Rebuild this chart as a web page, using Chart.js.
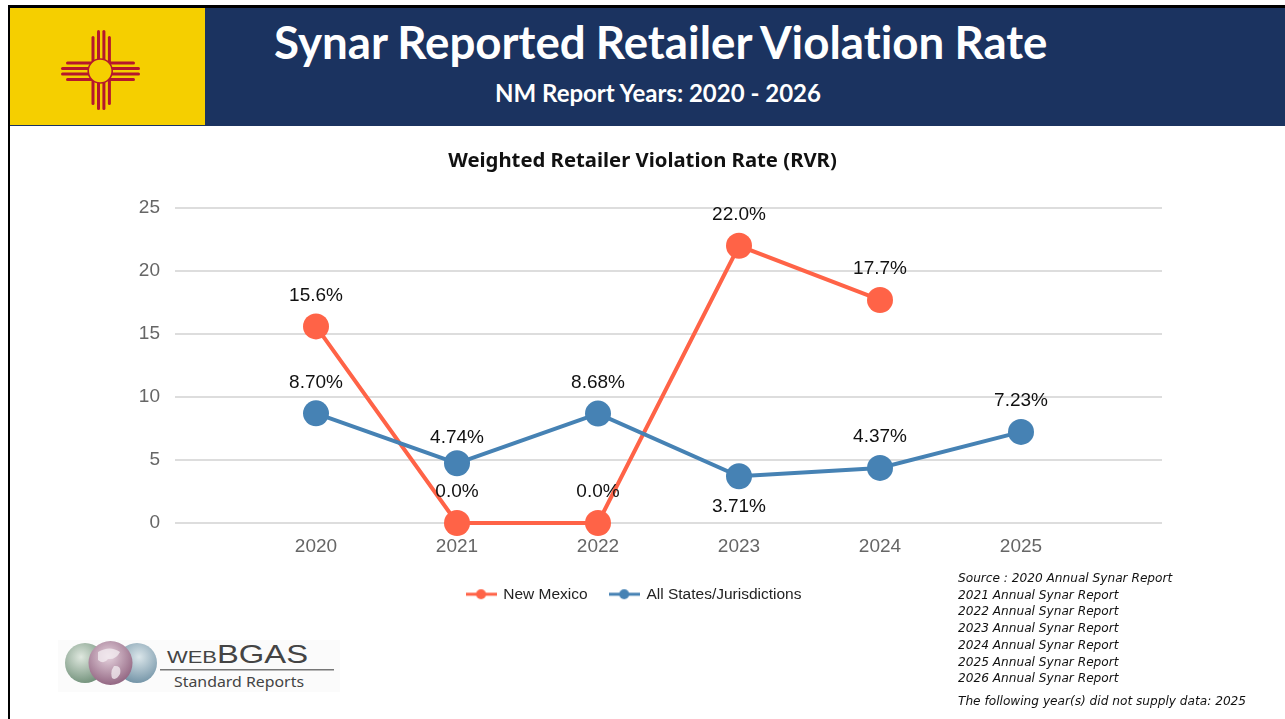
<!DOCTYPE html>
<html>
<head>
<meta charset="utf-8">
<title>Synar Reported Retailer Violation Rate</title>
<script src="https://cdn.jsdelivr.net/npm/chart.js@4"></script>
<style>
	html, body { margin: 0; padding: 0; background: #fff; }
	#page { position: relative; width: 1285px; height: 719px; overflow: hidden; background: #fff; }
	#topLine { position: absolute; left: 8px; right: 0; top: 5px; height: 3px; background: #000; }
	#leftLine { position: absolute; left: 8px; top: 5px; bottom: 0; width: 2px; background: #000; }
	#banner { position: absolute; left: 10px; right: 0; top: 8px; height: 118px; background: #1b3360; }
	#flag { position: absolute; left: 10px; top: 8px; width: 195px; height: 117px; background: #f5cf00; }
	#bannerTitle, #bannerSub { position: absolute; color: #fff; font-family: Lato, sans-serif; font-weight: 700; white-space: nowrap; font-variant-ligatures: none; }
	#bannerTitle { left: 274px; top: 15px; font-size: 45.7px; line-height: 54px; word-spacing: -1px; }
	#bannerSub { left: 495px; top: 78px; font-size: 24px; line-height: 30px; }
	#chartBox { position: absolute; left: 0; top: 126px; width: 1285px; height: 593px; }
	#chartBox canvas { display: block; }
	#logo { position: absolute; left: 58px; top: 640px; }
	#source { position: absolute; left: 958px; top: 570px; font-family: "DejaVu Sans", sans-serif; font-style: italic; font-size: 12.15px; line-height: 16.7px; color: #111; white-space: nowrap; }
	#source .gap { margin-top: 6px; }
</style>
</head>
<body>
<div id="page">
	<div id="banner"></div>
	<div id="flag">
		<svg width="195" height="117" viewBox="0 0 195 117">
			<g fill="#b5182c">
				<!-- zia rays: top, bottom, left, right -->
				<rect x="81.5" y="28" width="3" height="28" rx="1.5"/><rect x="87" y="22" width="3" height="34" rx="1.5"/>
				<rect x="92.4" y="22" width="3" height="34" rx="1.5"/><rect x="97.9" y="28" width="3" height="28" rx="1.5"/>
				<rect x="81.5" y="70" width="3" height="27" rx="1.5"/><rect x="87" y="70" width="3" height="32" rx="1.5"/>
				<rect x="92.4" y="70" width="3" height="32" rx="1.5"/><rect x="97.9" y="70" width="3" height="27" rx="1.5"/>
				<rect x="56" y="53.5" width="28" height="3" rx="1.5"/><rect x="51" y="59" width="33" height="3" rx="1.5"/>
				<rect x="51" y="64.4" width="33" height="3" rx="1.5"/><rect x="56" y="69.9" width="28" height="3" rx="1.5"/>
				<rect x="98" y="53.5" width="27" height="3" rx="1.5"/><rect x="98" y="59" width="32" height="3" rx="1.5"/>
				<rect x="98" y="64.4" width="32" height="3" rx="1.5"/><rect x="98" y="69.9" width="27" height="3" rx="1.5"/>
			</g>
			<circle cx="90.2" cy="63" r="12" fill="#f5cf00" stroke="#b5182c" stroke-width="1.6"/>
		</svg>
	</div>
	<div id="topLine"></div>
	<div id="leftLine"></div>
	<div id="bannerTitle">Synar Reported Retailer Violation Rate</div>
	<div id="bannerSub">NM Report Years: 2020 - 2026</div>
	<div id="chartBox"><canvas id="rvrChart" width="1285" height="593"></canvas></div>
	<svg id="logo" width="282" height="52" viewBox="0 0 282 52">
		<defs>
			<radialGradient id="gGreen" cx="40%" cy="35%" r="70%"><stop offset="0" stop-color="#dfe8df"/><stop offset="1" stop-color="#6f8f78"/></radialGradient>
			<radialGradient id="gMauve" cx="45%" cy="35%" r="70%"><stop offset="0" stop-color="#e6d3de"/><stop offset="1" stop-color="#8d5f7c"/></radialGradient>
			<radialGradient id="gBlue" cx="55%" cy="35%" r="70%"><stop offset="0" stop-color="#dbe6ea"/><stop offset="1" stop-color="#6d8fa3"/></radialGradient>
		</defs>
		<rect width="282" height="52" fill="#fbfbfb"/>
		<circle cx="27" cy="23" r="20" fill="url(#gGreen)"/>
		<circle cx="79" cy="23" r="20" fill="url(#gBlue)"/>
		<circle cx="52.5" cy="23" r="22" fill="url(#gMauve)"/>
		<g fill="#f4eef2" opacity="0.75">
			<path d="M40 12 Q52 5 62 12 Q58 20 50 19 Q46 25 40 20 Z"/>
			<path d="M56 26 Q64 25 62 34 Q58 41 54 38 Q52 31 56 26 Z"/>
		</g>
		<text x="109" y="23" font-family="Liberation Sans, sans-serif" font-size="16.5" fill="#444" textLength="50" lengthAdjust="spacingAndGlyphs">WEB</text>
		<text x="159" y="23" font-family="Liberation Sans, sans-serif" font-size="26" fill="#444" textLength="91" lengthAdjust="spacingAndGlyphs">BGAS</text>
		<rect x="102" y="29" width="174" height="1.5" fill="#777"/>
		<text x="116" y="47" font-family="Noto Sans, sans-serif" font-size="15" fill="#444" textLength="130" lengthAdjust="spacingAndGlyphs">Standard Reports</text>
	</svg>
	<div id="source">
		<div>Source : 2020 Annual Synar Report</div>
		<div>2021 Annual Synar Report</div>
		<div>2022 Annual Synar Report</div>
		<div>2023 Annual Synar Report</div>
		<div>2024 Annual Synar Report</div>
		<div>2025 Annual Synar Report</div>
		<div>2026 Annual Synar Report</div>
		<div class="gap">The following year(s) did not supply data: 2025</div>
	</div>
</div>

<script>
// blank slots at both ends give the empty space left of 2020 and right of 2025
const years = ['', '2020', '2021', '2022', '2023', '2024', '2025', ''];
const newMexico = [null, 15.6, 0, 0, 22, 17.7, null, null];
const allStates = [null, 8.7, 4.74, 8.68, 3.71, 4.37, 7.23, null];
const yTicks = [0, 5, 10, 15, 20, 25];

const legendNudge = 8.5;

// legend swatch: short line with a dot in the middle
function legendMarker(color) {
	const c = document.createElement('canvas');
	c.width = 31;
	c.height = 12;
	const ctx = c.getContext('2d');
	ctx.fillStyle = color;
	ctx.fillRect(0, 4.5, 31, 3);
	ctx.beginPath();
	ctx.arc(15.5, 6, 5, 0, Math.PI * 2);
	ctx.fill();
	return c;
}

const markers = [legendMarker('#ff6347'), legendMarker('#4682b4')];

// percent labels over the points
const valueLabels = {
	id: 'valueLabels',
	afterLayout(chart) {
		chart.legend.left -= legendNudge;
		chart.legend.right -= legendNudge;
	},
	afterDatasetsDraw(chart) {
		const ctx = chart.ctx;
		ctx.save();
		ctx.font = '19px "Liberation Sans", sans-serif';
		ctx.fillStyle = '#111';
		ctx.textAlign = 'center';
		ctx.textBaseline = 'middle';
		chart.data.datasets.forEach((ds, d) => {
			chart.getDatasetMeta(d).data.forEach((pt, i) => {
				if (ds.data[i] === null) return;
				let shift = -31;
				if (ds.label !== 'New Mexico' && years[i] === '2023') shift = 31;
				if (ds.label !== 'New Mexico' && years[i] === '2021') shift = -26;
				ctx.fillText(ds.data[i].toFixed(ds.decimals) + '%', pt.x, pt.y + shift);
			});
		});
		ctx.restore();
	}
};

new Chart(document.getElementById('rvrChart'), {
	type: 'line',
	plugins: [valueLabels],
	data: {
		labels: years,
		datasets: [
			{
				label: 'New Mexico',
				data: newMexico,
				decimals: 1,
				clip: false,
				borderColor: '#ff6347',
				backgroundColor: '#ff6347',
				borderWidth: 4,
				pointRadius: 13,
				pointHoverRadius: 13,
				pointBorderWidth: 0,
				tension: 0,
				order: 2
			},
			{
				label: 'All States/Jurisdictions',
				data: allStates,
				decimals: 2,
				clip: false,
				borderColor: '#4682b4',
				backgroundColor: '#4682b4',
				borderWidth: 4,
				pointRadius: 13,
				pointHoverRadius: 13,
				pointBorderWidth: 0,
				tension: 0,
				order: 1
			}
		]
	},
	options: {
		responsive: false,
		animation: false,
		layout: { padding: { left: 123, right: 123, top: 0, bottom: 107 } },
		plugins: {
			title: {
				display: true,
				text: 'Weighted Retailer Violation Rate (RVR)',
				color: '#111',
				font: { family: '"Noto Sans", sans-serif', size: 20.3, weight: 'bold' },
				padding: { top: 23, bottom: 34.6 }
			},
			legend: {
				position: 'bottom',
				labels: {
					usePointStyle: true,
					pointStyleWidth: 29,
					padding: 22,
					color: '#222',
					font: { family: '"Liberation Sans", sans-serif', size: 15.5 },
					generateLabels(chart) {
						return Chart.defaults.plugins.legend.labels.generateLabels(chart)
							.sort((a, b) => a.datasetIndex - b.datasetIndex)
							.map(item => ({ ...item, pointStyle: markers[item.datasetIndex] }));
					}
				}
			},
			tooltip: { enabled: false }
		},
		scales: {
			x: {
				afterFit(scale) { scale.height = 41.5; },
				grid: { display: false, drawTicks: false },
				border: { display: false },
				ticks: {
					color: '#666',
					padding: 12,
					maxRotation: 0,
					autoSkip: false,
					font: { family: '"Liberation Sans", sans-serif', size: 19 }
				}
			},
			y: {
				min: 0,
				max: 25,
				afterFit(scale) { scale.width = 52; },
				afterBuildTicks(scale) { scale.ticks = yTicks.map(v => ({ value: v })); },
				grid: { color: '#ddd', lineWidth: 2, drawTicks: false },
				border: { display: false },
				ticks: {
					color: '#666',
					padding: 15,
					font: { family: '"Liberation Sans", sans-serif', size: 19 }
				}
			}
		}
	}
});
</script>
</body>
</html>
